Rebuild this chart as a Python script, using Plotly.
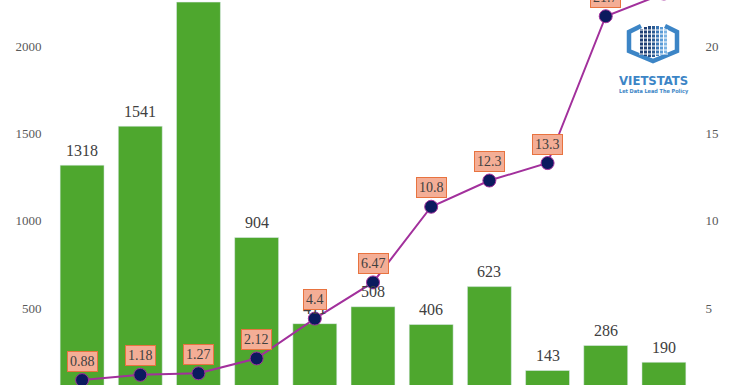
import plotly.graph_objects as go

categories = ["C1", "C2", "C3", "C4", "C5", "C6", "C7", "C8", "C9", "C10", "C11"]
bar_values = [1318, 1541, 2251, 904, 411, 508, 406, 623, 143, 286, 190]
line_values = [0.88, 1.18, 1.27, 2.12, 4.4, 6.47, 10.8, 12.3, 13.3, 21.7, 23.0]
left_ticks = [500, 1000, 1500, 2000]
right_ticks = [5, 10, 15, 20]

W, H = 736, 385
ML, MR = 53, 43
PW = W - ML - MR


def px(x):
    return (x - ML) / PW


def py(y):
    return (H - y) / H


fig = go.Figure()
fig.add_trace(go.Bar(
    x=categories, y=bar_values, marker_color="#4EA72E",
    yaxis="y", showlegend=False, hoverinfo="skip"))
fig.add_trace(go.Scatter(
    x=categories, y=line_values, yaxis="y2", mode="lines+markers",
    line=dict(color="#A2309C", width=2),
    marker=dict(size=13, color="#0B1A5E", line=dict(color="#A2309C", width=1)),
    showlegend=False, hoverinfo="skip"))

annotations = []
for c, v in zip(categories, bar_values):
    annotations.append(dict(
        x=c, y=v, xref="x", yref="y", text=str(v), showarrow=False,
        yshift=15, yanchor="middle",
        font=dict(family="Liberation Serif", size=16, color="#404040")))
for c, v in zip(categories, line_values):
    annotations.append(dict(
        x=c, y=v, xref="x", yref="y2", text=f"{v:g}", showarrow=False,
        yshift=19, yanchor="middle", bgcolor="#F4AE96", bordercolor="#E8733F",
        borderwidth=1, borderpad=2,
        font=dict(family="Liberation Serif", size=14, color="#404040")))

# logo
shapes = []
hexpath = [(641, 26), (629, 32), (629, 51), (653, 61), (677, 51), (677, 32), (665, 26)]
d = "M " + " L ".join(f"{px(a)},{py(b)}" for a, b in hexpath)
shapes.append(dict(type="path", xref="paper", yref="paper", path=d,
                   line=dict(color="#3C85C6", width=4.5)))
cols = [(640, 29, 55, "#1F3F75"), (644, 27, 56, "#1F3F75"), (648, 26, 57, "#24497F"),
        (652, 26, 57, "#2B5A92"), (656, 26, 56, "#3C77B5"), (660, 27, 55, "#5A9BD6"),
        (664, 29, 53, "#7DB4E3")]
for x0, t, b, col in cols:
    shapes.append(dict(type="rect", xref="paper", yref="paper",
                       x0=px(x0), x1=px(x0 + 3), y0=py(b), y1=py(t),
                       line=dict(width=0), fillcolor=col))
for yy in range(30, 56, 4):
    shapes.append(dict(type="line", xref="paper", yref="paper",
                       x0=px(639), x1=px(668), y0=py(yy), y1=py(yy),
                       line=dict(color="white", width=1)))
annotations.append(dict(xref="paper", yref="paper", x=px(653.5), y=py(80.5),
                        text="<b>VIETSTATS</b>", showarrow=False,
                        xanchor="center", yanchor="middle",
                        font=dict(family="DejaVu Sans Condensed", size=13, color="#3C85C6")))
annotations.append(dict(xref="paper", yref="paper", x=px(653.5), y=py(91.5),
                        text="<b>Let Data Lead The Policy</b>", showarrow=False,
                        xanchor="center", yanchor="middle",
                        font=dict(family="DejaVu Sans Condensed", size=5.5, color="#3C85C6")))

fig.update_layout(
    width=W, height=H, margin=dict(l=ML, r=MR, t=0, b=0),
    plot_bgcolor="white", paper_bgcolor="white", bargap=0.245,
    xaxis=dict(showticklabels=False, showgrid=False, zeroline=False,
               range=[-0.5, 10.5], ticks=""),
    yaxis=dict(range=[60, 2263], tickvals=left_ticks, showgrid=False, zeroline=False,
               showline=False, ticks="outside", ticklen=8, tickcolor="rgba(0,0,0,0)",
               automargin=False,
               tickfont=dict(family="Liberation Serif", size=13, color="#595959")),
    yaxis2=dict(range=[0.6, 22.63], tickvals=right_ticks, overlaying="y", side="right",
                showgrid=False, zeroline=False, showline=False, ticks="outside",
                ticklen=9, tickcolor="rgba(0,0,0,0)", automargin=False,
                tickfont=dict(family="Liberation Serif", size=13, color="#595959")),
    annotations=annotations, shapes=shapes,
)
fig.write_html("out.html", config={"displayModeBar": False},
               post_script="document.body.style.margin='0';document.body.style.overflow='hidden';")
